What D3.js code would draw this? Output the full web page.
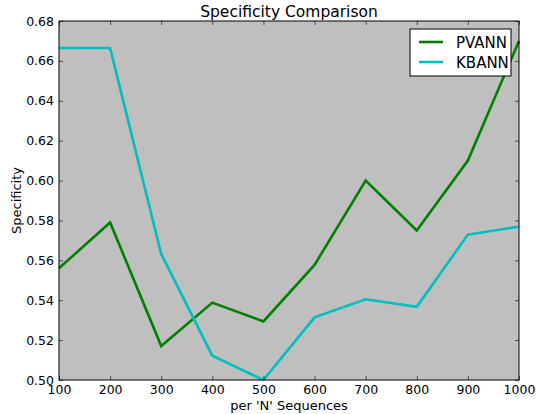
<!DOCTYPE html>
<html><head><meta charset="utf-8">
<script src="https://cdn.jsdelivr.net/npm/d3@7"></script>
<style>body{margin:0;background:#fff}svg{display:block}text{font-family:"DejaVu Sans",sans-serif}</style>
</head><body>
<svg id="c" width="536" height="414"></svg>
<script>
const sizes = [100,200,300,400,500,600,700,800,900,1000];
const pvann = [0.556,0.579,0.517,0.5388,0.5294,0.5577,0.600,0.575,0.610,0.670];
const kbann = [0.6665,0.6665,0.5632,0.5122,0.500,0.5314,0.5405,0.5367,0.5729,0.5769];
const xTicks = [100,200,300,400,500,600,700,800,900,1000];
const yTicks = [0.50,0.52,0.54,0.56,0.58,0.60,0.62,0.64,0.66,0.68];
const seriesNames = ["PVANN","KBANN"];
const colors = ["#008000","#00bfbf"];

const L=59,R=519,T=21,B=380;
const svg=d3.select("#c");
const x=d3.scaleLinear().domain([100,1000]).range([L,R]);
const y=d3.scaleLinear().domain([0.50,0.68]).range([B,T]);

svg.append("rect").attr("x",L).attr("y",T).attr("width",R-L).attr("height",B-T).attr("fill","#bfbfbf");

const line=d3.line().x((d,i)=>x(sizes[i])).y(d=>y(d));
[pvann,kbann].forEach((s,k)=>{
  svg.append("path").datum(s).attr("d",line).attr("fill","none")
    .attr("stroke",colors[k]).attr("stroke-width",2.6).attr("stroke-linejoin","miter");
});

const ax=svg.append("g").attr("transform",`translate(0,${B})`)
  .call(d3.axisBottom(x).tickValues(xTicks).tickSize(-4).tickPadding(7).tickFormat(d3.format("d")));
const axT=svg.append("g").attr("transform",`translate(0,${T})`)
  .call(d3.axisTop(x).tickValues(xTicks).tickSize(-4).tickFormat(""));
const ay=svg.append("g").attr("transform",`translate(${L},0)`)
  .call(d3.axisLeft(y).tickValues(yTicks).tickSize(-4).tickPadding(5).tickFormat(d3.format(".2f")));
const ayR=svg.append("g").attr("transform",`translate(${R},0)`)
  .call(d3.axisRight(y).tickValues(yTicks).tickSize(-4).tickFormat(""));
[ax,axT,ay,ayR].forEach(g=>{
  g.select(".domain").remove();
  g.selectAll("line").attr("stroke","#000").attr("stroke-width",0.6);
  g.selectAll("text").attr("font-size",12.5).attr("fill","#000").style("font-family","DejaVu Sans");
});
ax.selectAll("text").attr("dy","0.55em");
svg.append("rect").attr("x",L).attr("y",T).attr("width",R-L).attr("height",B-T)
  .attr("fill","none").attr("stroke","#000").attr("stroke-width",1);

svg.append("text").attr("x",(L+R)/2).attr("y",17).attr("text-anchor","middle")
  .attr("font-size",15.5).text("Specificity Comparison");
svg.append("text").attr("x",(L+R)/2).attr("y",410).attr("text-anchor","middle")
  .attr("font-size",13).text("per 'N' Sequences");
svg.append("text").attr("transform",`translate(21,${(T+B)/2}) rotate(-90)`).attr("text-anchor","middle")
  .attr("font-size",13).text("Specificity");

const lg=svg.append("g");
lg.append("rect").attr("x",410).attr("y",29).attr("width",101).attr("height",47)
  .attr("fill","#fff").attr("stroke","#000").attr("stroke-width",1);
seriesNames.forEach((n,i)=>{
  const yy=42+i*20;
  lg.append("line").attr("x1",419).attr("x2",443).attr("y1",yy).attr("y2",yy)
    .attr("stroke",colors[i]).attr("stroke-width",2.6);
  lg.append("text").attr("x",456).attr("y",yy+5.5).attr("font-size",15).text(n);
});
</script>
</body></html>
